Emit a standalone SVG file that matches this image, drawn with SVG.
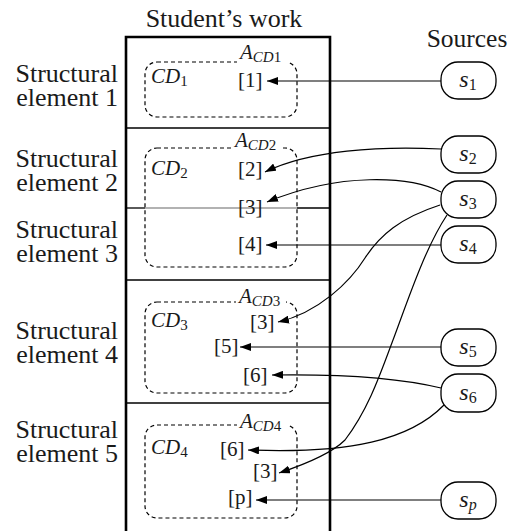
<svg xmlns="http://www.w3.org/2000/svg" width="516" height="531" viewBox="0 0 516 531">
<defs>
<marker id="ah" markerUnits="userSpaceOnUse" markerWidth="12" markerHeight="8" refX="11" refY="4" orient="auto"><path d="M0,0 L11,4 L0,8 Z" fill="#000"/></marker>
</defs>
<style>
text{font-family:"Liberation Serif","Times New Roman",serif;fill:#1a1a1a}
.lbl{font-size:26px;text-anchor:end}
.ttl{font-size:26px;text-anchor:middle}
.it{font-style:italic}
.cd{font-size:21px}
.sub{font-size:15px}
.ssub{font-size:16px}
.src{font-size:24px;text-anchor:middle}
.dash{fill:none;stroke:#000;stroke-width:1.2;stroke-dasharray:4 3}
.conn{fill:none;stroke:#000;stroke-width:1.2;marker-end:url(#ah)}
.shape{fill:#fff;stroke:#000;stroke-width:1.3}
.div{stroke:#000;stroke-width:1.3}
.gap{fill:#fff}
</style>

<g id="titles">
<text class="ttl" x="224" y="27">Student’s work</text>
<text class="ttl" x="467" y="47" style="font-size:25.5px">Sources</text>
</g>

<g id="work-box">
<line class="div" x1="126" y1="128" x2="330" y2="128"/>
<line class="div" x1="126" y1="208" x2="145" y2="208"/>
<line x1="145" y1="208" x2="297" y2="208" stroke="#999" stroke-width="1.3"/>
<line class="div" x1="297" y1="208" x2="330" y2="208"/>
<line class="div" x1="126" y1="280" x2="330" y2="280"/>
<line class="div" x1="126" y1="403" x2="330" y2="403"/>
<path d="M126,532 V37 H330 V532" fill="none" stroke="#000" stroke-width="2.6"/>
</g>

<g id="structural-labels">
<g id="se1"><text class="lbl" x="118" y="82">Structural</text><text class="lbl" x="118" y="106">element 1</text></g>
<g id="se2"><text class="lbl" x="118" y="167">Structural</text><text class="lbl" x="118" y="191">element 2</text></g>
<g id="se3"><text class="lbl" x="118" y="238">Structural</text><text class="lbl" x="118" y="262">element 3</text></g>
<g id="se4"><text class="lbl" x="118" y="339">Structural</text><text class="lbl" x="118" y="363">element 4</text></g>
<g id="se5"><text class="lbl" x="118" y="438">Structural</text><text class="lbl" x="118" y="462">element 5</text></g>
</g>

<g id="cd1">
<rect class="dash" x="145" y="62" width="152" height="55" rx="12"/>
<rect class="gap" x="237" y="56" width="50" height="12"/>
<text class="cd" x="240" y="59"><tspan class="it">A</tspan><tspan class="sub it" dy="3">CD</tspan><tspan class="sub">1</tspan></text>
<text class="cd" x="151" y="83"><tspan class="it">CD</tspan><tspan class="sub" dy="3">1</tspan></text>
<text class="cd" x="238" y="87">[1]</text>
</g>

<g id="cd2">
<rect class="dash" x="145" y="148" width="152" height="119" rx="12"/>
<rect class="gap" x="232" y="142" width="50" height="12"/>
<text class="cd" x="235" y="147"><tspan class="it">A</tspan><tspan class="sub it" dy="3">CD</tspan><tspan class="sub">2</tspan></text>
<text class="cd" x="151" y="175"><tspan class="it">CD</tspan><tspan class="sub" dy="3">2</tspan></text>
<text class="cd" x="238" y="176">[2]</text>
<text class="cd" x="238" y="214">[3]</text>
<text class="cd" x="238" y="251">[4]</text>
</g>

<g id="cd3">
<rect class="dash" x="145" y="302" width="152" height="91" rx="12"/>
<rect class="gap" x="236" y="296" width="50" height="12"/>
<text class="cd" x="239" y="303"><tspan class="it">A</tspan><tspan class="sub it" dy="3">CD</tspan><tspan class="sub">3</tspan></text>
<text class="cd" x="151" y="327"><tspan class="it">CD</tspan><tspan class="sub" dy="3">3</tspan></text>
<text class="cd" x="250" y="329">[3]</text>
<text class="cd" x="214" y="353">[5]</text>
<text class="cd" x="243" y="382">[6]</text>
</g>

<g id="cd4">
<rect class="dash" x="145" y="425" width="152" height="93" rx="12"/>
<rect class="gap" x="237" y="419" width="50" height="12"/>
<text class="cd" x="240" y="428"><tspan class="it">A</tspan><tspan class="sub it" dy="3">CD</tspan><tspan class="sub">4</tspan></text>
<text class="cd" x="151" y="454"><tspan class="it">CD</tspan><tspan class="sub" dy="3">4</tspan></text>
<text class="cd" x="220" y="456">[6]</text>
<text class="cd" x="253" y="478">[3]</text>
<text class="cd" x="228" y="504">[p]</text>
</g>

<g id="connectors">
<path class="conn" d="M441,81 H267"/>
<path class="conn" d="M441,149 C380,146 310,150 265,172"/>
<path class="conn" d="M441,192 C410,176 340,172 267,202"/>
<path class="conn" d="M441,245 H266"/>
<path class="conn" d="M440,205 C400,218 380,235 365,258 C350,282 318,313 278,322"/>
<path class="conn" d="M447,215 C425,248 408,300 393,340 C380,375 368,410 345,440 C330,455 300,466 279,473"/>
<path class="conn" d="M441,347 H240"/>
<path class="conn" d="M441,388 C400,378 340,374 272,375"/>
<path class="conn" d="M444,405 C410,440 350,454 248,450"/>
<path class="conn" d="M441,500 H256"/>
</g>

<g id="s1"><rect class="shape" x="441" y="62" width="55" height="37" rx="17"/><text class="src" x="468" y="87"><tspan class="it">s</tspan><tspan class="ssub" dy="3">1</tspan></text></g>
<g id="s2"><rect class="shape" x="441" y="136" width="55" height="37" rx="17"/><text class="src" x="468" y="161"><tspan class="it">s</tspan><tspan class="ssub" dy="3">2</tspan></text></g>
<g id="s3"><rect class="shape" x="441" y="181" width="55" height="37" rx="17"/><text class="src" x="468" y="206"><tspan class="it">s</tspan><tspan class="ssub" dy="3">3</tspan></text></g>
<g id="s4"><rect class="shape" x="441" y="226" width="55" height="37" rx="17"/><text class="src" x="468" y="251"><tspan class="it">s</tspan><tspan class="ssub" dy="3">4</tspan></text></g>
<g id="s5"><rect class="shape" x="441" y="329" width="55" height="37" rx="17"/><text class="src" x="468" y="354"><tspan class="it">s</tspan><tspan class="ssub" dy="3">5</tspan></text></g>
<g id="s6"><rect class="shape" x="441" y="374" width="55" height="38" rx="17"/><text class="src" x="468" y="400"><tspan class="it">s</tspan><tspan class="ssub" dy="3">6</tspan></text></g>
<g id="sp"><rect class="shape" x="441" y="482" width="55" height="37" rx="17"/><text class="src" x="468" y="507"><tspan class="it">s</tspan><tspan class="ssub it" dy="3">p</tspan></text></g>
</svg>
